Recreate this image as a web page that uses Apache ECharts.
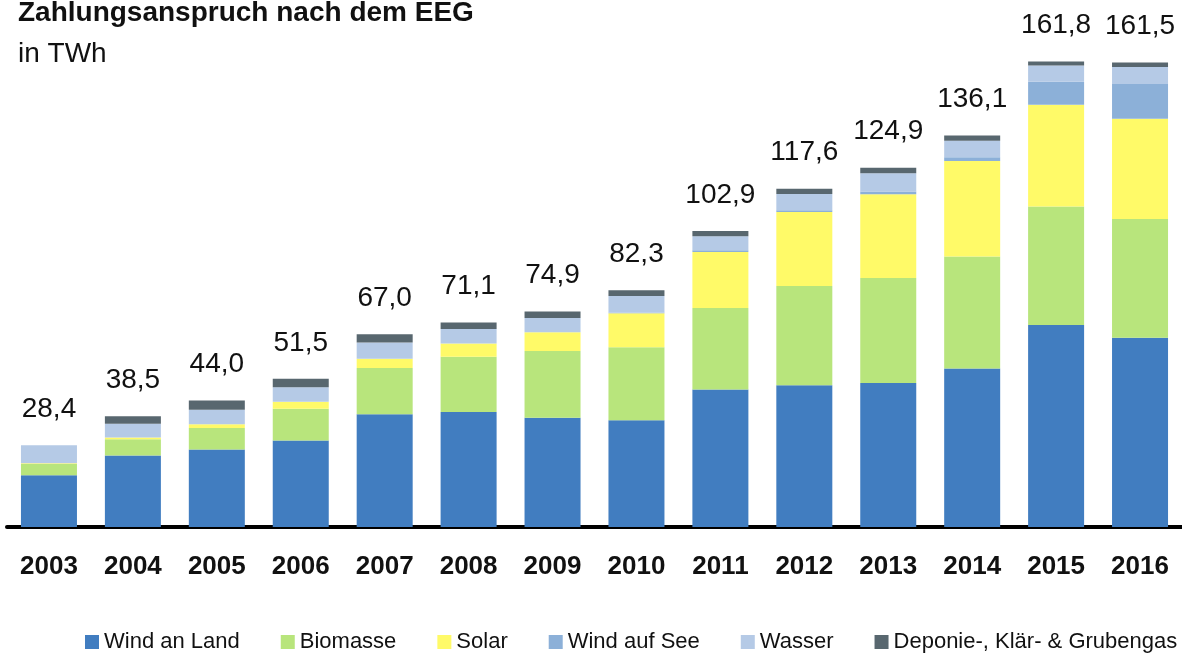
<!DOCTYPE html>
<html>
<head>
<meta charset="utf-8">
<script src="https://cdn.jsdelivr.net/npm/echarts@6/dist/echarts.min.js"></script>
<style>
html,body{margin:0;padding:0;background:#fff;}
#chart{width:1182px;height:655px;}
</style>
</head>
<body>
<div id="chart"></div>
<script>
const years = ['2003','2004','2005','2006','2007','2008','2009','2010','2011','2012','2013','2014','2015','2016'];
const windLand = [18.0, 24.9, 26.9, 30.1, 39.2, 40.0, 38.0, 37.1, 47.8, 49.3, 50.1, 55.1, 70.2, 65.8];
const biomasse = [3.9, 5.6, 7.5, 11.0, 16.1, 19.2, 23.2, 25.4, 28.3, 34.5, 36.5, 38.9, 41.2, 41.3];
const solar = [0.3, 0.6, 1.3, 2.4, 3.2, 4.6, 6.5, 11.8, 19.5, 25.7, 29.1, 33.2, 35.4, 34.8];
const windSee = [0, 0, 0, 0, 0, 0, 0, 0.2, 0.6, 0.6, 0.9, 1.3, 8.0, 12.1];
const wasser = [6.2, 4.8, 5.1, 5.1, 5.6, 5.0, 5.0, 5.8, 4.9, 5.7, 6.4, 5.8, 5.6, 5.9];
const gas = [0, 2.6, 3.2, 2.9, 2.9, 2.3, 2.2, 2.0, 1.8, 1.8, 1.9, 1.8, 1.4, 1.6];
const totals = [28.4, 38.5, 44.0, 51.5, 67.0, 71.1, 74.9, 82.3, 102.9, 117.6, 124.9, 136.1, 161.8, 161.5];

const seriesDefs = [
  {name: 'Wind an Land', data: windLand, color: '#417DC0'},
  {name: 'Biomasse', data: biomasse, color: '#B8E57C'},
  {name: 'Solar', data: solar, color: '#FFFA68'},
  {name: 'Wind auf See', data: windSee, color: '#8CB0D8'},
  {name: 'Wasser', data: wasser, color: '#B5CAE6'},
  {name: 'Deponie-, Klär- & Grubengas', data: gas, color: '#58676F'}
];

const sans = '"Liberation Sans", Arial, sans-serif';

const series = seriesDefs.map(s => ({
  name: s.name,
  type: 'bar',
  stack: 'eeg',
  barWidth: 56,
  data: s.data,
  itemStyle: {color: s.color},
  emphasis: {disabled: true}
}));
series.push({
  name: 'Summe',
  type: 'bar',
  barWidth: 56,
  barGap: '-100%',
  data: totals,
  z: 1,
  itemStyle: {color: 'rgba(0,0,0,0)'},
  label: {
    show: true,
    position: 'top',
    distance: 22,
    fontFamily: sans,
    fontSize: 28,
    color: '#111',
    formatter: p => p.value.toFixed(1).replace('.', ',')
  },
  emphasis: {disabled: true}
});

const chart = echarts.init(document.getElementById('chart'), null, {renderer: 'canvas'});
chart.setOption({
  animation: false,
  backgroundColor: '#fff',
  title: [
    {text: 'Zahlungsanspruch nach dem EEG', left: 18, top: -1, padding: 0,
     textStyle: {fontFamily: sans, fontWeight: 'bold', fontSize: 28, color: '#111'}},
    {text: 'in TWh', left: 18, top: 40, padding: 0,
     textStyle: {fontFamily: sans, fontWeight: 'normal', fontSize: 28, color: '#111'}}
  ],
  legend: {
    data: seriesDefs.map(s => s.name),
    left: 85,
    bottom: 2,
    padding: 0,
    width: 1200,
    itemWidth: 14,
    itemHeight: 14,
    itemGap: 41,
    icon: 'rect',
    textStyle: {fontFamily: sans, fontSize: 22, color: '#111'}
  },
  grid: {left: 7, width: 1176, top: 38, bottom: 128},
  xAxis: {
    type: 'category',
    data: years,
    axisTick: {show: false},
    axisLine: {lineStyle: {color: '#000', width: 4}},
    axisLabel: {interval: 0, fontFamily: sans, fontWeight: 'bold', fontSize: 26, color: '#111', margin: 27}
  },
  yAxis: {
    type: 'value',
    min: 0,
    max: 170,
    show: false,
    splitLine: {show: false}
  },
  series: series
});
</script>
</body>
</html>
